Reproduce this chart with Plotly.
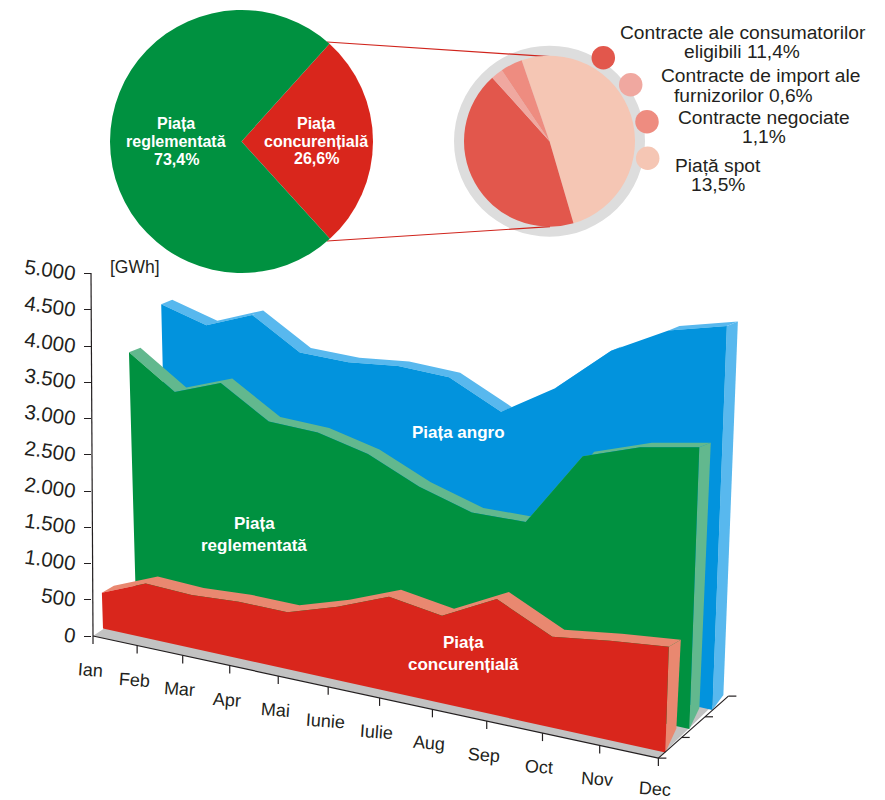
import plotly.graph_objects as go

# ---------- data ----------
months = ["Ian", "Feb", "Mar", "Apr", "Mai", "Iunie", "Iulie", "Aug", "Sep", "Oct", "Nov", "Dec"]
red_vals = [494, 756, 735, 784, 785, 1013, 1307, 1206, 1599, 1248, 1366, 1459]
green_vals = [3501, 3086, 3346, 2956, 2949, 2804, 2506, 2310, 2342, 3415, 3713, 3888]
blue_vals = [3886, 3730, 4011, 3637, 3647, 3748, 3748, 3433, 3920, 4608, 5058, 5297]
y_ticks = [0, 500, 1000, 1500, 2000, 2500, 3000, 3500, 4000, 4500, 5000]
y_labels = ["0", "500", "1.000", "1.500", "2.000", "2.500", "3.000", "3.500", "4.000", "4.500", "5.000"]
main_labels = ["Piața concurențială", "Piața reglementată"]
main_vals = [26.6, 73.4]
sub_labels = ["Piață spot", "Contracte ale consumatorilor eligibili", "Contracte de import ale furnizorilor", "Contracte negociate"]
sub_vals = [13.5, 11.4, 0.6, 1.1]

# ---------- projection (oblique view with perspective) ----------
W, H = 885, 800
K = 0.0725


def X(t):
    return 93 + 43.4 * t + 0.727 * t * t


def Y(t):
    return 636 + 0.216 * (X(t) - 93)


def to_y(px):
    return (636 - px) / K


def proj(t, v, pl):
    f = t / 11
    xb = X(t) + pl["dx"][0] + (pl["dx"][1] - pl["dx"][0]) * f + pl["bow"] * 4 * f * (1 - f)
    yb = Y(t) + pl["dy"][0] + (pl["dy"][1] - pl["dy"][0]) * f
    h = v * K
    return xb + (xb - 380) * h / 8800, yb - h


layers = [
    dict(vals=blue_vals, dx=(75, 54), dy=(-50, -48), bow=4, band=(11, -4.5), side=(11, -15), face="#0293DD", light="#58B8EE"),
    dict(vals=green_vals, dx=(43, 31), dy=(-30, -29), bow=2.5, band=(11.5, -4.5), side=(10, -21), face="#009140", light="#62B88E"),
    dict(vals=red_vals, dx=(10, 7), dy=(-7.5, -5.5), bow=1, band=(12, -7), side=(11, -24), face="#D9261C", light="#E98870"),
]

fig = go.Figure()


def poly(xs, ys, color):
    fig.add_trace(go.Scatter(x=xs, y=[None if v is None else to_y(v) for v in ys], mode="lines",
                             fill="toself", fillcolor=color, line=dict(width=0), hoverinfo="skip", showlegend=False))


def line(xs, ys, color="#231F20", width=1.2):
    fig.add_trace(go.Scatter(x=xs, y=[None if v is None else to_y(v) for v in ys], mode="lines",
                             line=dict(color=color, width=width), hoverinfo="skip", showlegend=False))


# floor
poly([X(0), X(11), X(11) + 65, X(0) + 74], [Y(0), Y(11), Y(11) - 63, Y(0) - 50], "#C2C2C2")

# series planes, back to front
for lay in layers:
    n = len(lay["vals"])
    tops = [proj(i, lay["vals"][i], lay) for i in range(n)]
    bx, by = lay["band"]
    # top band segments
    xs, ys = [], []
    for i in range(n - 1):
        (x0, y0), (x1, y1) = tops[i], tops[i + 1]
        xs += [x0, x1, x1 + bx, x0 + bx, x0, None]
        ys += [y0, y1, y1 + by, y0 + by, y0, None]
    poly(xs, ys, lay["light"])
    # right side band
    bl = proj(n - 1, 0, lay)
    tl = tops[-1]
    poly([tl[0], tl[0] + bx, bl[0] + lay["side"][0], bl[0], tl[0]],
         [tl[1], tl[1] + by, bl[1] + lay["side"][1], bl[1], tl[1]], lay["light"])
    # front face
    b0 = proj(0, 0, lay)
    poly([b0[0]] + [p[0] for p in tops] + [bl[0], b0[0]],
         [b0[1]] + [p[1] for p in tops] + [bl[1], b0[1]], lay["face"])

# axes drawn over the floor
line([91, X(0)], [273, Y(0)])
line([X(0), X(11)], [Y(0), Y(11)])
tx, ty = [], []
for i in range(12):
    tx += [X(i), X(i), None]
    ty += [Y(i), Y(i) + 8, None]
line(tx, ty)
line([X(11), X(11) + 70], [Y(11), Y(11) - 62])
tx, ty = [], []
for f in (0, 1, 2, 3):
    x0 = X(11) + 70 * f / 3
    y0 = Y(11) - 62 * f / 3
    tx += [x0, x0 + 8, None]
    ty += [y0, y0, None]
line(tx, ty)

# connector lines between pies
line([327, 550], [42, 56.7], "#D0241C", 1.2)
line([327, 550], [241, 226.7], "#D0241C", 1.2)

# legend dots
dot_x = [603.3, 630.7, 647, 647.7]
dot_y = [57.7, 84.7, 121.7, 158.3]
dot_c = ["#E2574C", "#F0A8A0", "#EE8C80", "#F5C6B4"]
fig.add_trace(go.Scatter(x=dot_x, y=[to_y(v) for v in dot_y], mode="markers",
                         marker=dict(size=23.5, color=dot_c, line=dict(width=0)),
                         hoverinfo="skip", showlegend=False))

# pies
fig.add_trace(go.Pie(labels=main_labels, values=main_vals, sort=False, direction="clockwise", rotation=42,
                     marker=dict(colors=["#D9261C", "#009140"], line=dict(width=0)),
                     textinfo="none", hoverinfo="label+percent", showlegend=False,
                     domain=dict(x=[110 / W, 373 / W], y=[1 - 273 / H, 1 - 10 / H])))
fig.add_trace(go.Pie(labels=sub_labels, values=sub_vals, sort=False, direction="clockwise", rotation=341,
                     marker=dict(colors=["#F5C6B4", "#E2574C", "#F0A8A0", "#EE8C80"], line=dict(width=0)),
                     textinfo="none", hoverinfo="label+percent", showlegend=False,
                     domain=dict(x=[464 / W, 635 / W], y=[1 - 226.7 / H, 1 - 55.7 / H])))

# gray ring behind the detail pie
shapes = [dict(type="circle", layer="below", xref="x", yref="y", x0=454, x1=645,
               y0=to_y(236.7), y1=to_y(45.7), fillcolor="#DDDDDD", line=dict(width=0))]


def text(s, px, py, size, color="#231F20", bold=False, angle=0):
    fig.add_annotation(text=f"<b>{s}</b>" if bold else s, x=px / W, y=1 - py / H, xref="paper", yref="paper",
                       showarrow=False, xanchor="center", yanchor="middle", textangle=angle,
                       font=dict(family="Liberation Sans", size=size, color=color))


for s, px, py in [("Piața", 176, 123), ("reglementată", 176, 141), ("73,4%", 176, 159),
                  ("Piața", 316, 123), ("concurențială", 316, 141), ("26,6%", 316, 158)]:
    text(s, px, py, 16, "#FFFFFF", True)
for s, px, py in [("Piața angro", 458, 432), ("Piața", 254, 523), ("reglementată", 254, 545),
                  ("Piața", 463, 642.7), ("concurențială", 463, 664)]:
    text(s, px, py, 17, "#FFFFFF", True)

for s, px, py in [("Contracte ale consumatorilor", 742.7, 32.7), ("eligibili 11,4%", 742, 51.7),
                  ("Contracte de import ale", 760, 76), ("furnizorilor 0,6%", 743, 95),
                  ("Contracte negociate", 764, 117.3), ("1,1%", 764, 136.7),
                  ("Piață spot", 717.7, 165), ("13,5%", 717.7, 184)]:
    text(s, px, py, 19.2)

text("[GWh]", 135, 266.7, 17.5)

for i, m in enumerate(months):
    text(m, X(i) - 3, min(Y(i) + 34, 788.5), 18, angle=4)

fig.update_layout(
    width=W, height=H, margin=dict(l=0, r=0, t=0, b=0), paper_bgcolor="white", plot_bgcolor="white",
    showlegend=False, shapes=shapes,
    xaxis=dict(range=[0, W], visible=False, domain=[0, 1], fixedrange=True),
    yaxis=dict(range=[to_y(H), to_y(0)], domain=[0, 1], anchor="free", position=91 / W, side="left",
               tickmode="array", tickvals=y_ticks, ticktext=y_labels, ticks="outside", ticklen=7, tickwidth=1.2,
               tickcolor="#231F20", showgrid=False, zeroline=False, showline=False, tickangle=8,
               ticklabelstandoff=4, tickfont=dict(family="Liberation Sans", size=20.5, color="#231F20"),
               fixedrange=True),
)

fig.write_html("out.html", config=dict(displayModeBar=False), post_script="document.body.style.margin='0';")
